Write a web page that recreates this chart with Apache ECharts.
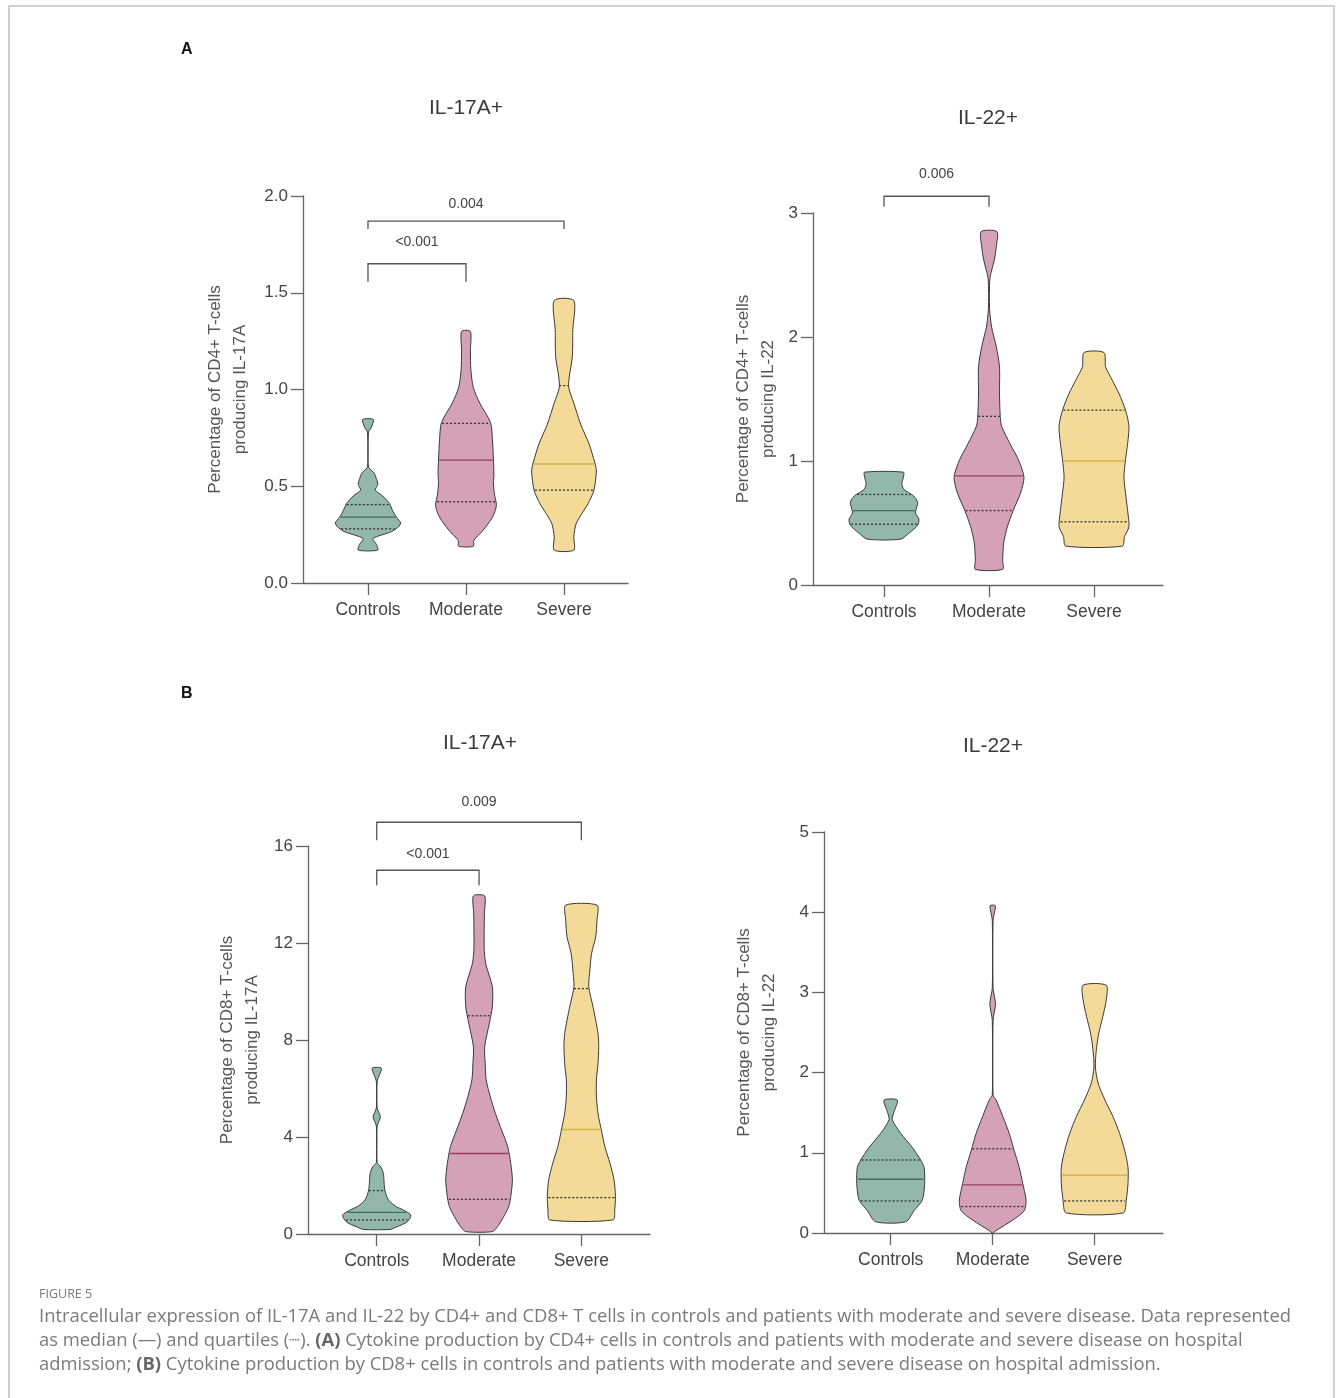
<!DOCTYPE html>
<html>
<head>
<meta charset="utf-8">
<script src="https://cdn.jsdelivr.net/npm/echarts@6/dist/echarts.min.js"></script>
<style>
html,body{margin:0;padding:0;background:#fff;}
#chart{width:1341px;height:1398px;}
</style>
</head>
<body>
<div id="chart"></div>
<script>
// ---------- DATA ----------
const categories = ['Controls', 'Moderate', 'Severe'];

// Violin outlines: [value, half-width (in category units)]
// A: CD4+ IL-17A+
const cd4IL17A_controls = [[0.17,0.10],[0.20,0.085],[0.23,0.05],[0.265,0.24],[0.29,0.31],[0.31,0.333],[0.34,0.29],[0.375,0.25],[0.41,0.22],[0.45,0.15],[0.48,0.075],[0.51,0.10],[0.54,0.085],[0.57,0.06],[0.60,0.005],[0.78,0.005],[0.80,0.03],[0.845,0.055]];
const cd4IL17A_moderate = [[0.19,0.075],[0.22,0.08],[0.27,0.17],[0.34,0.27],[0.40,0.31],[0.46,0.29],[0.52,0.28],[0.56,0.285],[0.64,0.28],[0.74,0.27],[0.83,0.25],[0.93,0.14],[1.01,0.075],[1.10,0.05],[1.20,0.045],[1.30,0.045]];
const cd4IL17A_severe = [[0.17,0.10],[0.24,0.10],[0.31,0.126],[0.41,0.245],[0.48,0.306],[0.58,0.33],[0.62,0.315],[0.72,0.255],[0.82,0.17],[0.93,0.10],[1.01,0.048],[1.07,0.055],[1.17,0.085],[1.31,0.09],[1.46,0.10]];
const cd4IL17A_median = [0.34, 0.635, 0.615];
const cd4IL17A_q1 = [0.28, 0.42, 0.48];
const cd4IL17A_q3 = [0.405, 0.825, 1.02];

// A: CD4+ IL-22+
const cd4IL22_controls = [[0.37,0.16],[0.42,0.24],[0.48,0.32],[0.53,0.333],[0.58,0.30],[0.62,0.31],[0.67,0.32],[0.72,0.28],[0.77,0.19],[0.82,0.17],[0.87,0.185],[0.91,0.185]];
const cd4IL22_moderate = [[0.126,0.13],[0.20,0.13],[0.34,0.14],[0.47,0.175],[0.60,0.23],[0.74,0.30],[0.87,0.333],[1.01,0.28],[1.14,0.20],[1.28,0.12],[1.36,0.107],[1.54,0.10],[1.76,0.10],[1.92,0.07],[2.08,0.025],[2.22,0.006],[2.35,0.004],[2.48,0.01],[2.62,0.05],[2.73,0.07],[2.85,0.075]];
const cd4IL22_severe = [[0.314,0.27],[0.39,0.29],[0.47,0.333],[0.60,0.32],[0.74,0.30],[0.87,0.285],[1.01,0.30],[1.14,0.32],[1.28,0.333],[1.41,0.30],[1.54,0.24],[1.65,0.175],[1.76,0.11],[1.875,0.095]];
const cd4IL22_median = [0.60, 0.88, 1.0];
const cd4IL22_q1 = [0.49, 0.60, 0.51];
const cd4IL22_q3 = [0.73, 1.36, 1.41];

// B: CD8+ IL-17A+
const cd8IL17A_controls = [[0.19,0.13],[0.30,0.20],[0.51,0.30],[0.78,0.333],[0.99,0.26],[1.13,0.19],[1.40,0.115],[1.79,0.08],[2.22,0.07],[2.5,0.065],[2.77,0.04],[2.95,0.004],[4.45,0.004],[4.83,0.035],[5.2,0.004],[6.3,0.004],[6.5,0.02],[6.84,0.045]];
const cd8IL17A_moderate = [[0.10,0.13],[0.30,0.18],[0.71,0.24],[1.13,0.29],[1.54,0.31],[2.22,0.326],[2.91,0.31],[3.6,0.28],[4.29,0.22],[4.97,0.16],[5.66,0.11],[6.35,0.07],[7.03,0.06],[7.72,0.055],[8.68,0.10],[9.37,0.13],[10.2,0.13],[11.15,0.065],[11.8,0.05],[13.2,0.052],[13.94,0.055]];
const cd8IL17A_severe = [[0.58,0.31],[0.99,0.326],[1.54,0.333],[2.22,0.32],[2.91,0.28],[3.6,0.23],[4.29,0.195],[4.97,0.163],[5.66,0.147],[6.35,0.147],[7.03,0.163],[7.72,0.17],[8.27,0.163],[9.37,0.114],[10.19,0.072],[10.74,0.08],[11.57,0.10],[12.25,0.14],[12.94,0.153],[13.56,0.153]];
const cd8IL17A_median = [0.89, 3.32, 4.31];
const cd8IL17A_q1 = [0.58, 1.43, 1.50];
const cd8IL17A_q3 = [1.79, 9.0, 10.12];

// B: CD8+ IL-22+
const cd8IL22_controls = [[0.14,0.147],[0.28,0.23],[0.41,0.31],[0.62,0.333],[0.82,0.327],[0.91,0.294],[1.07,0.21],[1.24,0.10],[1.41,0.016],[1.50,0.03],[1.657,0.065]];
const cd8IL22_moderate = [[0.0,0.005],[0.03,0.033],[0.16,0.196],[0.28,0.31],[0.41,0.327],[0.62,0.294],[0.82,0.26],[1.03,0.21],[1.24,0.163],[1.45,0.10],[1.66,0.033],[1.72,0.004],[2.65,0.004],[2.86,0.028],[3.05,0.004],[3.9,0.004],[4.08,0.026]];
const cd8IL22_severe = [[0.25,0.28],[0.41,0.31],[0.62,0.327],[0.82,0.327],[1.03,0.294],[1.24,0.245],[1.45,0.18],[1.66,0.10],[1.87,0.033],[2.07,0.007],[2.28,0.016],[2.49,0.04],[2.70,0.08],[2.91,0.114],[3.09,0.114]];
const cd8IL22_median = [0.67, 0.60, 0.72];
const cd8IL22_q1 = [0.40, 0.33, 0.40];
const cd8IL22_q3 = [0.91, 1.05, null];

// Significance brackets: [fromIndex, toIndex, barValue, legEndValue, labelValue, label]
const cd4IL17A_sig = [[0, 1, 1.65, 1.557, 1.76, '<0.001'], [0, 2, 1.87, 1.83, 1.96, '0.004']];
const cd4IL22_sig = [[0, 1, 3.135, 3.05, 3.31, '0.006']];
const cd8IL17A_sig = [[0, 1, 15.0, 14.38, 15.66, '<0.001'], [0, 2, 16.98, 16.24, 17.8, '0.009']];
const cd8IL22_sig = [];

// Axis ticks
const cd4IL17A_ticks = {min: 0, max: 2, interval: 0.5, decimals: 1};
const cd4IL22_ticks = {min: 0, max: 3, interval: 1, decimals: 0};
const cd8IL17A_ticks = {min: 0, max: 16, interval: 4, decimals: 0};
const cd8IL22_ticks = {min: 0, max: 5, interval: 1, decimals: 0};

const panelTitles = ['IL-17A+', 'IL-22+', 'IL-17A+', 'IL-22+'];
const yNames = [
  'Percentage of CD4+ T-cells\nproducing IL-17A',
  'Percentage of CD4+ T-cells\nproducing IL-22',
  'Percentage of CD8+ T-cells\nproducing IL-17A',
  'Percentage of CD8+ T-cells\nproducing IL-22'
];

// ---------- STYLE / LAYOUT ----------
const fills = ['#93b8ab', '#d4a1b7', '#f3da98'];
const medianColors = ['#3f6e5f', '#9a3d60', '#d8b44a'];
const axisColor = '#666';
const textColor = '#444';
const FONT = '"Liberation Sans", Arial, sans-serif';

const panels = [
  {profiles: [cd4IL17A_controls, cd4IL17A_moderate, cd4IL17A_severe], med: cd4IL17A_median, q1: cd4IL17A_q1, q3: cd4IL17A_q3, sig: cd4IL17A_sig, ticks: cd4IL17A_ticks,
   grid: {left: 303, top: 196, width: 325, height: 387}, xr: [-0.663, 2.653], nameGap: 50, title: [461, 93]},
  {profiles: [cd4IL22_controls, cd4IL22_moderate, cd4IL22_severe], med: cd4IL22_median, q1: cd4IL22_q1, q3: cd4IL22_q3, sig: cd4IL22_sig, ticks: cd4IL22_ticks,
   grid: {left: 813, top: 213, width: 350, height: 372}, xr: [-0.676, 2.657], nameGap: 32, title: [983, 103]},
  {profiles: [cd8IL17A_controls, cd8IL17A_moderate, cd8IL17A_severe], med: cd8IL17A_median, q1: cd8IL17A_q1, q3: cd8IL17A_q3, sig: cd8IL17A_sig, ticks: cd8IL17A_ticks,
   grid: {left: 308, top: 846, width: 342, height: 388}, xr: [-0.672, 2.671], nameGap: 43, title: [475, 728]},
  {profiles: [cd8IL22_controls, cd8IL22_moderate, cd8IL22_severe], med: cd8IL22_median, q1: cd8IL22_q1, q3: cd8IL22_q3, sig: cd8IL22_sig, ticks: cd8IL22_ticks,
   grid: {left: 824, top: 832, width: 339, height: 401}, xr: [-0.654, 2.67], nameGap: 42, title: [988, 731]}
];

function widthAt(prof, y) {
  if (y <= prof[0][0]) return prof[0][1];
  for (let i = 1; i < prof.length; i++) {
    if (y <= prof[i][0]) {
      const a = prof[i - 1], b = prof[i];
      const t = (y - a[0]) / (b[0] - a[0]);
      return a[1] + t * (b[1] - a[1]);
    }
  }
  return prof[prof.length - 1][1];
}

function violinRenderer(panel) {
  return function (params, api) {
    const g = params.dataIndex;
    const prof = panel.profiles[g];
    const pts = [];
    for (let i = 0; i < prof.length; i++) pts.push(api.coord([g + prof[i][1], prof[i][0]]));
    for (let i = prof.length - 1; i >= 0; i--) pts.push(api.coord([g - prof[i][1], prof[i][0]]));
    const children = [{
      type: 'polygon',
      shape: {points: pts, smooth: 0.25},
      style: {fill: fills[g], stroke: '#3a3a3a', lineWidth: 1}
    }];
    function hline(v, color, dash) {
      if (v === null || v === undefined) return;
      const w = widthAt(prof, v) * 0.97;
      const p1 = api.coord([g - w, v]);
      const p2 = api.coord([g + w, v]);
      children.push({
        type: 'line',
        shape: {x1: p1[0], y1: p1[1], x2: p2[0], y2: p2[1]},
        style: {stroke: color, lineWidth: 1.3, lineDash: dash ? [2, 2] : null}
      });
    }
    hline(panel.med[g], medianColors[g], false);
    hline(panel.q1[g], '#333', true);
    hline(panel.q3[g], '#333', true);
    return {type: 'group', children: children};
  };
}

function bracketRenderer(panel) {
  return function (params, api) {
    const s = panel.sig[params.dataIndex];
    const a = api.coord([s[0], s[3]]);
    const b = api.coord([s[0], s[2]]);
    const c = api.coord([s[1], s[2]]);
    const d = api.coord([s[1], s[3]]);
    const t = api.coord([(s[0] + s[1]) / 2, s[4]]);
    return {
      type: 'group',
      children: [
        {type: 'polyline', shape: {points: [a, b, c, d]}, style: {stroke: '#555', lineWidth: 1.3, fill: null}},
        {type: 'text', style: {text: s[5], x: t[0], y: t[1], align: 'center', verticalAlign: 'middle', fill: textColor, fontSize: 14, fontFamily: FONT}}
      ]
    };
  };
}

const grids = [], xAxes = [], yAxes = [], series = [], titles = [];
panels.forEach(function (p, i) {
  grids.push(Object.assign({containLabel: false, outerBoundsMode: 'none'}, p.grid));
  xAxes.push({
    type: 'value', gridIndex: i, min: p.xr[0], max: p.xr[1],
    splitLine: {show: false},
    axisLine: {show: true, onZero: false, lineStyle: {color: axisColor, width: 1.3}},
    axisTick: {show: true, customValues: [0, 1, 2], length: 12, lineStyle: {color: axisColor, width: 1.3}},
    axisLabel: {show: true, customValues: [0, 1, 2], margin: 18, color: textColor, fontSize: 17.5, fontFamily: FONT,
      formatter: function (v) { return categories[Math.round(v)] || ''; }}
  });
  yAxes.push({
    type: 'value', gridIndex: i, min: p.ticks.min, max: p.ticks.max, interval: p.ticks.interval,
    splitLine: {show: false},
    axisLine: {show: true, onZero: false, lineStyle: {color: axisColor, width: 1.3}},
    axisTick: {show: true, length: 12, lineStyle: {color: axisColor, width: 1.3}},
    axisLabel: {color: textColor, fontSize: 17, margin: 15, fontFamily: FONT,
      formatter: (function (dec) { return function (v) { return v.toFixed(dec); }; })(p.ticks.decimals)},
    name: yNames[i], nameLocation: 'middle', nameGap: p.nameGap,
    nameTextStyle: {color: '#555', fontSize: 17, lineHeight: 25, fontFamily: FONT}
  });
  series.push({
    type: 'custom', xAxisIndex: i, yAxisIndex: i, clip: false,
    renderItem: violinRenderer(p),
    data: categories.map(function (c, k) { return [k, p.med[k]]; }),
    silent: true, z: 2
  });
  if (p.sig.length) {
    series.push({
      type: 'custom', xAxisIndex: i, yAxisIndex: i, clip: false,
      renderItem: bracketRenderer(p),
      data: p.sig.map(function (s) { return [s[0], s[2]]; }),
      silent: true, z: 3
    });
  }
  titles.push({text: panelTitles[i], left: p.title[0], top: p.title[1], textAlign: 'center',
    textStyle: {color: '#3a3a3a', fontSize: 21, fontWeight: 'normal', fontFamily: FONT}});
});

titles.push({text: 'A', left: 176, top: 37, textStyle: {color: '#111', fontSize: 16, fontWeight: 'bold', fontFamily: FONT}});
titles.push({text: 'B', left: 176, top: 681, textStyle: {color: '#111', fontSize: 16, fontWeight: 'bold', fontFamily: FONT}});

const captionColor = '#7a7a7a';
const CAPFONT = '"Open Sans", Lato, sans-serif';
const CAPSIZE = 18.4;
const graphics = [
  {type: 'rect', shape: {x: 9, y: 6, width: 1325, height: 1420}, style: {fill: null, stroke: '#d0d0d0', lineWidth: 2}, silent: true},
  {type: 'text', left: 39, top: 1288, style: {text: 'FIGURE 5', fill: captionColor, fontSize: 12.5, fontFamily: CAPFONT}},
  {type: 'text', left: 39, top: 1308, style: {text: 'Intracellular expression of IL-17A and IL-22 by CD4+ and CD8+ T cells in controls and patients with moderate and severe disease. Data represented', fill: captionColor, fontSize: CAPSIZE, fontFamily: CAPFONT}},
  {type: 'text', left: 39, top: 1332, style: {text: 'as median (\u2014) and quartiles (\u2508). {b|(A)} Cytokine production by CD4+ cells in controls and patients with moderate and severe disease on hospital', fill: captionColor, fontSize: CAPSIZE, fontFamily: CAPFONT, rich: {b: {fontWeight: 'bold', fill: '#666', fontSize: CAPSIZE, fontFamily: CAPFONT}}}},
  {type: 'text', left: 39, top: 1356, style: {text: 'admission; {b|(B)} Cytokine production by CD8+ cells in controls and patients with moderate and severe disease on hospital admission.', fill: captionColor, fontSize: CAPSIZE, fontFamily: CAPFONT, rich: {b: {fontWeight: 'bold', fill: '#666', fontSize: CAPSIZE, fontFamily: CAPFONT}}}}
];

const chart = echarts.init(document.getElementById('chart'), null, {renderer: 'canvas'});
chart.setOption({
  backgroundColor: '#fff',
  animation: false,
  title: titles,
  grid: grids,
  xAxis: xAxes,
  yAxis: yAxes,
  series: series,
  graphic: graphics
});
</script>
</body>
</html>
